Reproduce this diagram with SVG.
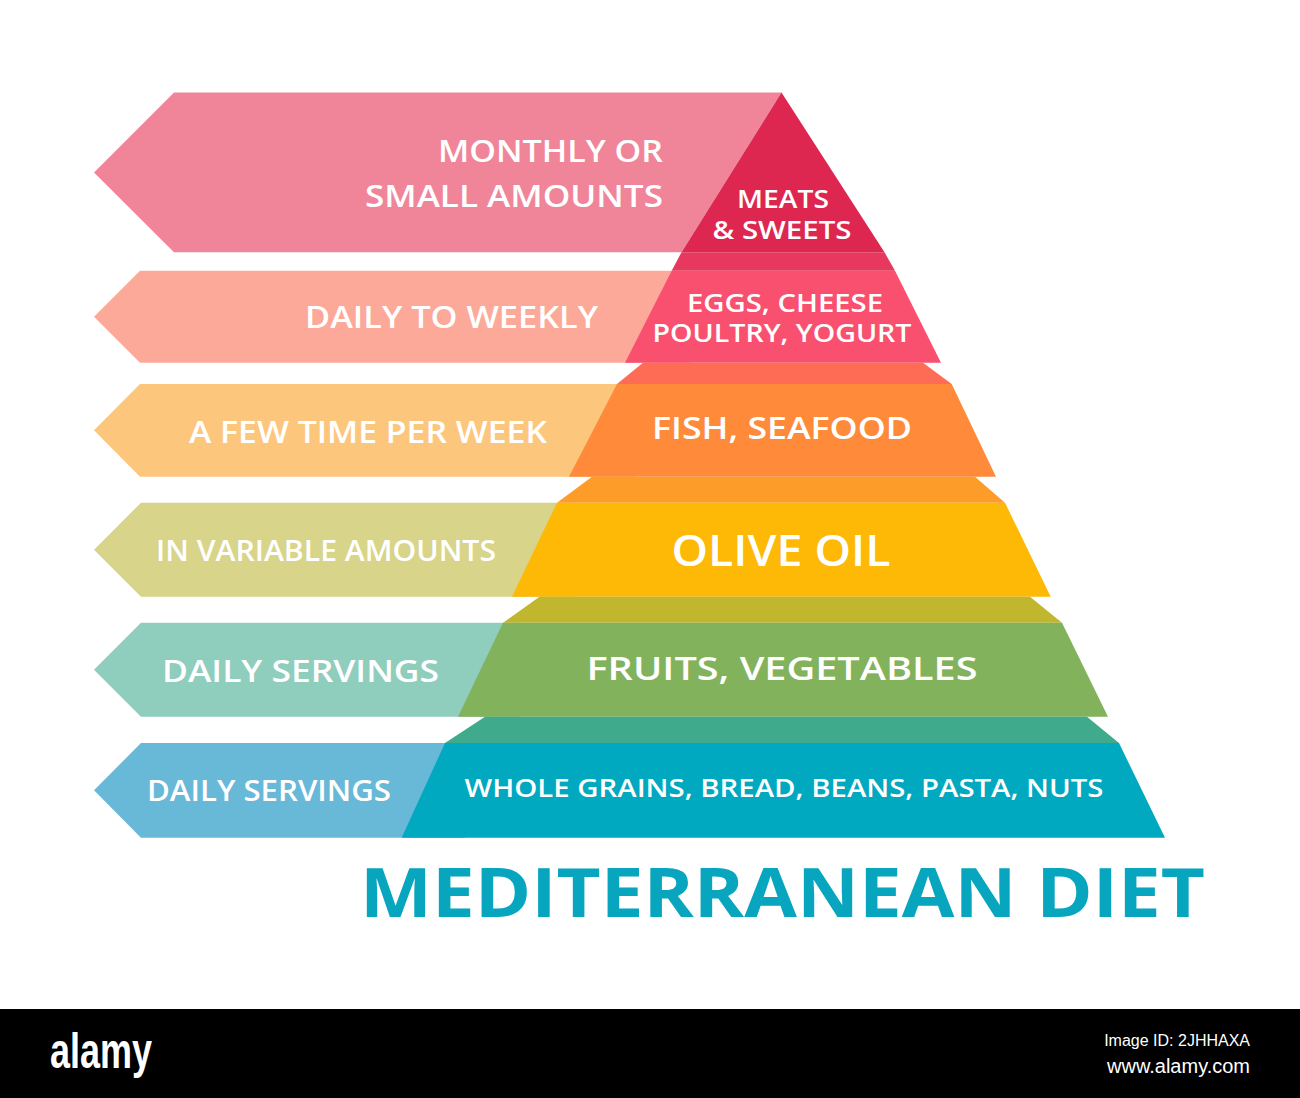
<svg xmlns="http://www.w3.org/2000/svg" width="1300" height="1098" viewBox="0 0 1300 1098">
<style>
.t{font-family:"Open Sans","Liberation Sans",sans-serif;font-weight:600;fill:#ffffff}
.title{font-family:"Open Sans","Liberation Sans",sans-serif;font-weight:700;fill:#07a5be}
.wm{font-family:"Liberation Sans","DejaVu Sans",sans-serif;fill:#ffffff}
</style>
<rect width="1300" height="1098" fill="#ffffff"/>
<g id="labels">
  <g id="row1-label">
    <polygon points="174,92.5 781.5,92.5 681.5,252.3 174,252.3 94,172.4" fill="#f0859a"/>
    <text class="t" x="663" y="162" font-size="31" text-anchor="end" textLength="225" lengthAdjust="spacingAndGlyphs">MONTHLY OR</text>
    <text class="t" x="663" y="207" font-size="31" text-anchor="end" textLength="298" lengthAdjust="spacingAndGlyphs">SMALL AMOUNTS</text>
  </g>
  <g id="row2-label">
    <polygon points="140,270.7 690,270.7 690,362.7 140,362.7 94,316.7" fill="#fca99a"/>
    <text class="t" x="305" y="328" font-size="31" textLength="293" lengthAdjust="spacingAndGlyphs">DAILY TO WEEKLY</text>
  </g>
  <g id="row3-label">
    <polygon points="140,384 635,384 635,476.7 140,476.7 94,430.3" fill="#fdc67d"/>
    <text class="t" x="189" y="443" font-size="30" textLength="358" lengthAdjust="spacingAndGlyphs">A FEW TIME PER WEEK</text>
  </g>
  <g id="row4-label">
    <polygon points="141,502.7 575,502.7 575,596.7 141,596.7 94,549.7" fill="#d8d489"/>
    <text class="t" x="156" y="561" font-size="28" textLength="340" lengthAdjust="spacingAndGlyphs">IN VARIABLE AMOUNTS</text>
  </g>
  <g id="row5-label">
    <polygon points="141,622.7 520,622.7 520,716.7 141,716.7 94,669.7" fill="#8fcdbd"/>
    <text class="t" x="162" y="682" font-size="31" textLength="277" lengthAdjust="spacingAndGlyphs">DAILY SERVINGS</text>
  </g>
  <g id="row6-label">
    <polygon points="141,743 465,743 465,837.7 141,837.7 94,790.3" fill="#68b8d8"/>
    <text class="t" x="147" y="801" font-size="28" textLength="244" lengthAdjust="spacingAndGlyphs">DAILY SERVINGS</text>
  </g>
</g>
<g id="pyramid">
  <g id="tier1">
    <polygon points="781.5,92.5 884.5,252.3 681.5,252.3" fill="#dd2751"/>
    <text class="t" x="783" y="208" font-size="25" text-anchor="middle" textLength="92" lengthAdjust="spacingAndGlyphs">MEATS</text>
    <text class="t" x="782" y="239" font-size="25" text-anchor="middle" textLength="139" lengthAdjust="spacingAndGlyphs">&amp; SWEETS</text>
  </g>
  <g id="tier2">
    <polygon points="681.5,252.3 884.5,252.3 895,270.7 671.7,270.7" fill="#e7385d"/>
    <polygon points="671.7,270.7 895,270.7 941,362.7 625,362.7" fill="#f9506f"/>
    <text class="t" x="785" y="312" font-size="25" text-anchor="middle" textLength="196" lengthAdjust="spacingAndGlyphs">EGGS, CHEESE</text>
    <text class="t" x="782" y="342" font-size="25" text-anchor="middle" textLength="259" lengthAdjust="spacingAndGlyphs">POULTRY, YOGURT</text>
  </g>
  <g id="tier3">
    <polygon points="643,362.7 923,362.7 951.7,384 617,384" fill="#fe6c55"/>
    <polygon points="617,384 951.7,384 996,476.7 569,476.7" fill="#fe8a3a"/>
    <text class="t" x="782" y="439" font-size="31" text-anchor="middle" textLength="260" lengthAdjust="spacingAndGlyphs">FISH, SEAFOOD</text>
  </g>
  <g id="tier4">
    <polygon points="592,476.7 975,476.7 1005,502.7 557,502.7" fill="#fe9c2a"/>
    <polygon points="557,502.7 1005,502.7 1050.7,596.7 512,596.7" fill="#fdb906"/>
    <text class="t" x="781" y="566" font-size="44" text-anchor="middle" textLength="219" lengthAdjust="spacingAndGlyphs">OLIVE OIL</text>
  </g>
  <g id="tier5">
    <polygon points="539.5,596.7 1030,596.7 1062,622.7 503,622.7" fill="#c0b72e"/>
    <polygon points="503,622.7 1062,622.7 1108,716.7 458,716.7" fill="#82b25c"/>
    <text class="t" x="782" y="680" font-size="32" text-anchor="middle" textLength="391" lengthAdjust="spacingAndGlyphs">FRUITS, VEGETABLES</text>
  </g>
  <g id="tier6">
    <polygon points="485,716.7 1087,716.7 1119,743 445,743" fill="#40ab8c"/>
    <polygon points="445,743 1119,743 1165,837.7 401.7,837.7" fill="#00a8c0"/>
    <text class="t" x="784" y="797" font-size="25" text-anchor="middle" textLength="639" lengthAdjust="spacingAndGlyphs">WHOLE GRAINS, BREAD, BEANS, PASTA, NUTS</text>
  </g>
</g>
<g id="connectors"/>
<g id="title">
  <text class="title" x="360" y="917" font-size="68" textLength="845" lengthAdjust="spacingAndGlyphs">MEDITERRANEAN DIET</text>
</g>
<g id="footer">
  <rect x="0" y="1009" width="1300" height="89" fill="#000000"/>
  <text class="wm" x="50" y="1068" font-size="50" font-weight="700" textLength="102" lengthAdjust="spacingAndGlyphs">alamy</text>
  <text class="wm" x="1250" y="1046" font-size="16" text-anchor="end">Image ID: 2JHHAXA</text>
  <text class="wm" x="1250" y="1073" font-size="20" text-anchor="end">www.alamy.com</text>
</g>
</svg>
